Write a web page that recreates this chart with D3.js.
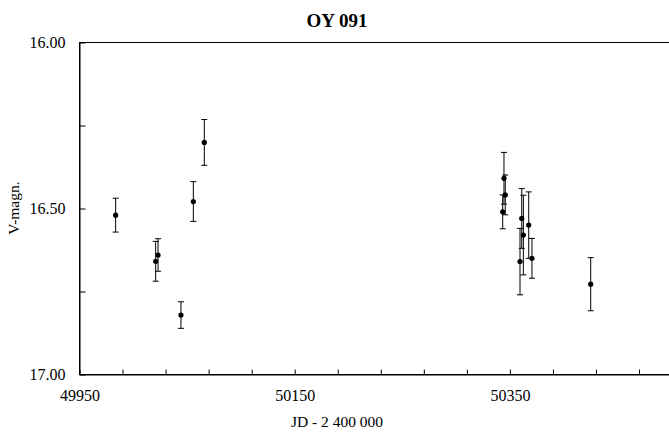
<!DOCTYPE html>
<html>
<head>
<meta charset="utf-8">
<script src="https://cdn.jsdelivr.net/npm/d3@7"></script>
<style>
  body { margin: 0; background: #fff; }
  svg { display: block; font-family: 'Liberation Serif', 'Times New Roman', serif; }
</style>
</head>
<body>
<svg id="chart" width="669" height="432"></svg>
<script>
(function() {
  'use strict';

  // Observations: JD - 2 400 000, V magnitude, error
  var jd  = [49983.6, 50020.8, 50023.0, 50044.3, 50055.8, 50066.0,
             50343.3, 50344.5, 50345.7, 50359.4, 50361.0, 50362.5,
             50367.5, 50370.5, 50425.1];
  var mag = [16.520, 16.659, 16.640, 16.821, 16.479, 16.301,
             16.510, 16.409, 16.459, 16.660, 16.530, 16.580,
             16.550, 16.650, 16.728];
  var err = [0.051, 0.060, 0.049, 0.040, 0.060, 0.069,
             0.051, 0.078, 0.060, 0.100, 0.090, 0.120,
             0.100, 0.060, 0.080];

  var xTicks = d3.range(49950, 50551, 40);
  var xLabels = [49950, 50150, 50350];
  var yTicks = [16, 16.25, 16.5, 16.75, 17];
  var yLabels = [16, 16.5, 17];

  var svg = d3.select('#chart');
  var left = 79.5, top = 42.5, bottom = 374.5;

  // the plot runs past the right edge of the window
  var x = d3.scaleLinear().domain([49950, 50550]).range([left, left + 600 * 1.076]);
  var y = d3.scaleLinear().domain([16, 17]).range([top, bottom]);

  svg.append('rect')
    .attr('x', x(49950)).attr('y', y(16))
    .attr('width', x(50550) - x(49950)).attr('height', y(17) - y(16))
    .attr('fill', 'none').attr('stroke', '#000').attr('stroke-width', 1);

  var yAxis = d3.axisLeft(y).tickValues(yTicks).tickSizeInner(-6).tickSizeOuter(0)
    .tickPadding(14)
    .tickFormat(function(d) { return yLabels.indexOf(d) >= 0 ? d3.format('.2f')(d) : ''; });
  var gy = svg.append('g').attr('transform', 'translate(' + left + ',0)').call(yAxis);

  var xAxis = d3.axisBottom(x).tickValues(xTicks).tickSizeInner(-5).tickSizeOuter(0)
    .tickPadding(15)
    .tickFormat(function(d) { return xLabels.indexOf(d) >= 0 ? d : ''; });
  var gx = svg.append('g').attr('transform', 'translate(0,' + bottom + ')').call(xAxis);

  [gx, gy].forEach(function(g) {
    g.select('.domain').attr('stroke', '#000');
    g.selectAll('.tick line').attr('stroke', '#000');
    g.selectAll('.tick text').attr('fill', '#000')
      .style('font-size', '16px').style('font-family', "'Liberation Serif', serif");
  });

  // error bars
  var pts = svg.append('g').selectAll('g').data(jd).enter().append('g');
  pts.append('line')
    .attr('x1', function(d) { return x(d); }).attr('x2', function(d) { return x(d); })
    .attr('y1', function(d, i) { return y(mag[i] - err[i]); })
    .attr('y2', function(d, i) { return y(mag[i] + err[i]); })
    .attr('stroke', '#000').attr('stroke-width', 1);
  [-1, 1].forEach(function(s) {
    pts.append('line')
      .attr('x1', function(d) { return x(d) - 3; }).attr('x2', function(d) { return x(d) + 3; })
      .attr('y1', function(d, i) { return y(mag[i] + s * err[i]); })
      .attr('y2', function(d, i) { return y(mag[i] + s * err[i]); })
      .attr('stroke', '#000').attr('stroke-width', 1);
  });
  pts.append('circle')
    .attr('cx', function(d) { return x(d); })
    .attr('cy', function(d, i) { return y(mag[i]); })
    .attr('r', 2.6).attr('fill', '#000');

  svg.append('text').attr('x', 337).attr('y', 27).attr('text-anchor', 'middle')
    .style('font-size', '19px').style('font-weight', 'bold').text('OY 091');
  svg.append('text').attr('transform', 'translate(19,208) rotate(-90)')
    .attr('text-anchor', 'middle').style('font-size', '15.5px').text('V-magn.');
  svg.append('text').attr('x', 337).attr('y', 427).attr('text-anchor', 'middle')
    .style('font-size', '15.5px').text('JD - 2 400 000');
})();
</script>
</body>
</html>
